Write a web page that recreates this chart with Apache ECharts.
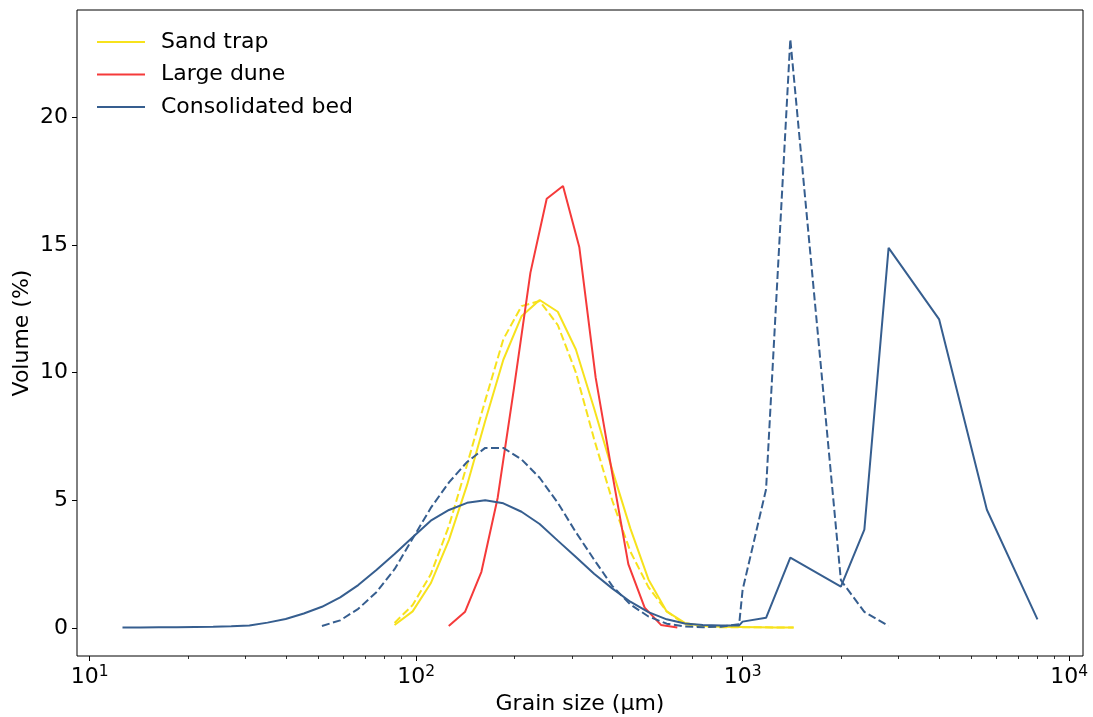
<!DOCTYPE html>
<html><head><meta charset="utf-8">
<script src="https://cdn.jsdelivr.net/npm/echarts@6/dist/echarts.min.js"></script>
<style>html,body{margin:0;padding:0;background:#fff}#c{width:1093px;height:717px}</style>
</head><body><div id="c"></div><script>
// ---------- data (grain size in µm, volume in %) ----------
const sandTrapSizes = [85.90, 97.61, 110.9, 126.1, 143.3, 162.8, 185.0, 210.3, 239.0, 271.6, 308.6, 350.8, 398.6, 453.0, 514.8, 585.4, 665.0, 755.8, 859.0, 976.1, 1109.5, 1261, 1433];
const sandTrapA = [0.12, 0.65, 1.75, 3.45, 5.6, 8.1, 10.5, 12.2, 12.84, 12.38, 10.9, 8.6, 6.2, 3.9, 1.9, 0.65, 0.2, 0.08, 0.05, 0.04, 0.03, 0.02, 0.02];
const sandTrapB = [0.2, 0.9, 2.1, 4.0, 6.4, 8.9, 11.3, 12.6, 12.8, 11.86, 10.0, 7.4, 5.0, 3.0, 1.6, 0.65, 0.15, 0.05, 0.03, 0.03, 0.03, 0.02, 0.02];

const largeDuneSizes = [125.9, 141.3, 158.5, 177.8, 199.5, 223.9, 251.2, 281.8, 316.2, 354.8, 398.1, 446.7, 501.2, 562.3, 631.0];
const largeDune = [0.08, 0.64, 2.2, 5.1, 9.4, 13.9, 16.8, 17.3, 14.9, 9.8, 6.1, 2.5, 0.8, 0.12, 0.02];

const bedSizesA = [12.61, 14.33, 16.28, 18.51, 21.03, 23.90, 27.16, 30.86, 35.08, 39.86, 45.30, 51.48, 58.54, 66.50, 75.58, 85.90, 97.61, 110.9, 126.1, 143.3, 162.8, 185.0, 210.3, 239.0, 271.6, 308.6, 350.8, 398.6, 453.0, 514.8, 585.4, 665.0, 755.8, 859.0, 976.1, 1000, 1180, 1400, 2000, 2360, 2800, 4000, 5600, 8000];
const bedA = [0.02, 0.02, 0.03, 0.03, 0.04, 0.05, 0.07, 0.1, 0.21, 0.35, 0.57, 0.83, 1.2, 1.68, 2.27, 2.9, 3.55, 4.2, 4.62, 4.9, 5.0, 4.88, 4.55, 4.07, 3.42, 2.78, 2.12, 1.55, 1.03, 0.62, 0.34, 0.18, 0.12, 0.1, 0.1, 0.25, 0.4, 2.75, 1.62, 3.85, 14.88, 12.08, 4.63, 0.34];
const bedSizesB = [51.48, 58.54, 66.50, 75.58, 85.90, 97.61, 110.9, 126.1, 143.3, 162.8, 185.0, 210.3, 239.0, 271.6, 308.6, 350.8, 398.6, 453.0, 514.8, 585.4, 665.0, 755.8, 859.0, 976.1, 1000, 1180, 1400, 2000, 2360, 2800];
const bedB = [0.08, 0.3, 0.75, 1.4, 2.3, 3.5, 4.7, 5.7, 6.5, 7.05, 7.05, 6.6, 5.88, 4.9, 3.75, 2.68, 1.65, 0.92, 0.45, 0.17, 0.06, 0.03, 0.05, 0.15, 1.49, 5.43, 23.05, 1.87, 0.63, 0.08];

const seriesNames = ['Sand trap', 'Large dune', 'Consolidated bed'];
const xTickExponents = [1, 2, 3, 4];
const minorMultipliers = [2, 3, 4, 5, 6, 7, 8, 9];
const yTicks = [0, 5, 10, 15, 20];

// ---------- chart ----------
const FONT = '"DejaVu Sans", sans-serif';
const COL = { yellow: '#f7e21c', red: '#f53a3a', blue: '#365e8f' };
const xMin = 9.15, xMax = 11030;
const lg = Math.log10;
const minorX = [];
xTickExponents.forEach(e => { if (e >= 4) return; minorMultipliers.forEach(m => minorX.push(lg(m) + e)); });

function pairs(sizes, vals) { return sizes.map((s, i) => [s, vals[i]]); }
function line(name, sizes, vals, color, dashed) {
  return {
    name, type: 'line', xAxisIndex: 0, yAxisIndex: 0, data: pairs(sizes, vals),
    showSymbol: false, symbol: 'none', color: color,
    lineStyle: { color: color, width: 2, type: dashed ? [8, 3.5] : 'solid' },
    emphasis: { disabled: true }
  };
}

const chart = echarts.init(document.getElementById('c'), null, { renderer: 'canvas' });
chart.setOption({
  animation: false,
  backgroundColor: '#fff',
  grid: { left: 77, right: 10, top: 10, bottom: 61, show: true, borderColor: '#000', borderWidth: 1,
          backgroundColor: 'transparent', outerBoundsMode: 'none', containLabel: false },
  legend: {
    data: seriesNames, orient: 'vertical', left: 92, top: 26, itemWidth: 48, itemHeight: 2, itemGap: 10.5,
    icon: 'rect', itemStyle: { borderWidth: 0 },
    textStyle: { fontFamily: FONT, fontSize: 22, color: '#000', padding: [0, 0, 0, 11] }
  },
  xAxis: [
    { type: 'log', logBase: 10, min: xMin, max: xMax, position: 'bottom',
      axisLine: { show: false }, axisTick: { show: false }, axisLabel: { show: false }, splitLine: { show: false } },
    { type: 'value', min: lg(xMin), max: lg(xMax), position: 'bottom',
      axisLine: { show: false }, splitLine: { show: false },
      axisTick: { show: true, length: 5, customValues: xTickExponents, lineStyle: { color: '#000', width: 1 } },
      axisLabel: { customValues: xTickExponents, margin: 8,
        formatter: v => '{b|10}{s|' + Math.round(v) + '}',
        rich: {
          b: { fontFamily: FONT, fontSize: 22, color: '#000', lineHeight: 26 },
          s: { fontFamily: FONT, fontSize: 15.5, color: '#000', lineHeight: 16, verticalAlign: 'top' }
        } },
      name: 'Grain size (µm)', nameLocation: 'middle', nameGap: 37, nameMoveOverlap: false,
      nameTextStyle: { fontFamily: FONT, fontSize: 22, color: '#000' } },
    { type: 'value', min: lg(xMin), max: lg(xMax), position: 'bottom',
      axisLine: { show: false }, splitLine: { show: false }, axisLabel: { show: false },
      axisTick: { show: true, length: 3, customValues: minorX, lineStyle: { color: '#000', width: 0.8 } } }
  ],
  yAxis: {
    type: 'value', min: -1.096, max: 24.19,
    axisLine: { show: false }, splitLine: { show: false },
    axisTick: { show: true, length: 5, customValues: yTicks, lineStyle: { color: '#000', width: 1 } },
    axisLabel: { customValues: yTicks, margin: 9, fontFamily: FONT, fontSize: 22, color: '#000' },
    name: 'Volume (%)', nameLocation: 'middle', nameGap: 44, nameRotate: 90, nameMoveOverlap: false,
    nameTextStyle: { fontFamily: FONT, fontSize: 22, color: '#000' }
  },
  series: [
    line('Sand trap', sandTrapSizes, sandTrapA, COL.yellow, false),
    line('Sand trap dashed', sandTrapSizes, sandTrapB, COL.yellow, true),
    line('Large dune', largeDuneSizes, largeDune, COL.red, false),
    line('Consolidated bed', bedSizesA, bedA, COL.blue, false),
    line('Consolidated bed dashed', bedSizesB, bedB, COL.blue, true)
  ]
});
</script></body></html>
